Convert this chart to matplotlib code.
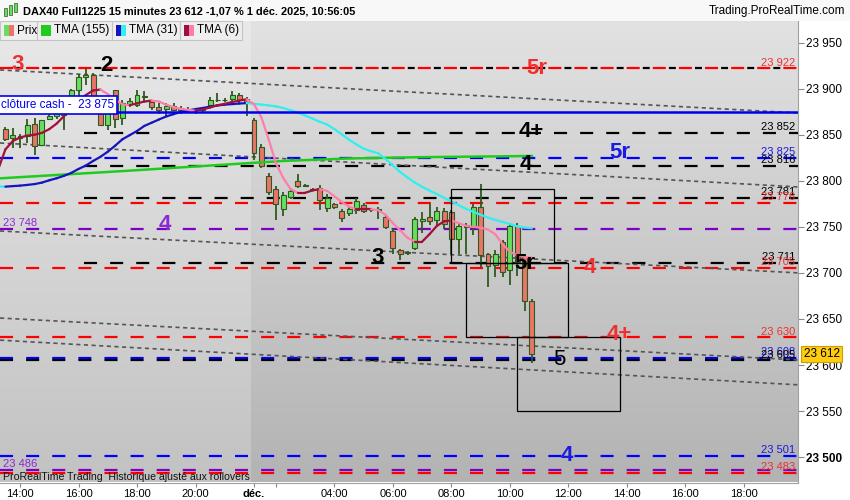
import numpy as np
import matplotlib
matplotlib.use("Agg")
import matplotlib.pyplot as plt
from matplotlib.collections import LineCollection
from matplotlib.colors import LinearSegmentedColormap
from matplotlib.patches import Rectangle

plt.rcParams['font.family'] = ['Liberation Sans', 'DejaVu Sans']
plt.rcParams['lines.scale_dashes'] = False

W, H = 850, 500

# ---------------------------------------------------------------------------
# 15 min bars, Fri 28 Nov 13:30 -> Mon 1 Dec 10:45 (night gap removed)
opens = [23856, 23846, 23849, 23849, 23862, 23839, 23867, 23870, 23871, 23892,
         23899, 23913, 23915, 23884, 23860, 23898, 23868, 23883, 23882, 23890.5,
         23886, 23880, 23878, 23881, 23877, 23878, 23876.5, 23877, 23882, 23888,
         23888, 23889, 23893, 23889,
         23866, 23837, 23805, 23791, 23769, 23782, 23800, 23795, 23790, 23792.5,
         23770, 23774.5, 23767, 23765, 23768, 23774, 23768, 23769, 23761, 23745.5,
         23725, 23722, 23727, 23756.5, 23761, 23757, 23767, 23766, 23737, 23750,
         23750, 23771, 23720, 23709, 23734, 23703, 23751, 23717.5, 23670]
highs = [23858, 23857, 23851, 23867, 23868, 23866, 23875, 23879, 23889, 23900,
         23916, 23921, 23917, 23886, 23888, 23899, 23888, 23889.5, 23899, 23897,
         23888, 23884, 23884, 23884, 23881, 23880, 23878, 23879, 23891, 23895,
         23890, 23897, 23895, 23891,
         23868, 23840, 23808, 23794, 23788, 23790, 23807, 23796, 23792, 23795,
         23786, 23776, 23769, 23772, 23781, 23776, 23770, 23771, 23763, 23749,
         23726, 23724, 23761, 23766, 23775, 23771, 23770, 23768, 23754, 23754,
         23775, 23796, 23722, 23725, 23736, 23754, 23754, 23719.5, 23671.5]
lows = [23843, 23836, 23836, 23841, 23828, 23838, 23866, 23867, 23855, 23889.5,
        23888, 23904, 23886, 23859, 23855, 23857, 23861, 23880.4, 23880, 23886,
        23877, 23873, 23870, 23876, 23873, 23874, 23872, 23875, 23880, 23886,
        23886, 23887, 23884, 23870,
        23822, 23814, 23785, 23757, 23762, 23780, 23792, 23793, 23789, 23768,
        23766, 23769, 23755, 23762, 23764, 23765, 23766, 23759, 23748, 23721,
        23714, 23719, 23725, 23743, 23752, 23752, 23748, 23721, 23721, 23721,
        23741, 23706, 23685, 23696, 23696, 23687, 23697, 23659, 23602]
closes = [23845, 23850, 23846, 23861, 23838, 23866, 23870, 23875, 23882, 23898,
          23913, 23915, 23888, 23861, 23880, 23867, 23884, 23886.5, 23893, 23892,
          23880, 23877, 23881, 23877, 23879.4, 23878, 23876.5, 23878, 23888, 23888,
          23888, 23893, 23888, 23885,
          23830, 23816, 23788, 23775, 23785, 23789, 23794, 23794, 23791, 23779,
          23781, 23771, 23760, 23769, 23778, 23767.5, 23768, 23768, 23750, 23727,
          23720.5, 23722.5, 23758, 23759, 23756, 23767.5, 23753, 23737, 23751, 23752,
          23771, 23719, 23707.5, 23721, 23701.5, 23751, 23712, 23670, 23612]

# moving averages, one value per bar starting one bar before the first candle
tma6 = [23812, 23834, 23843, 23847, 23849, 23850, 23852, 23856, 23862, 23870,
        23879, 23887, 23893, 23898, 23899, 23894, 23888, 23883, 23882, 23884,
        23886, 23887, 23886, 23882.5, 23880, 23878, 23877, 23876, 23877.5, 23879.5,
        23882, 23883.5, 23885.5, 23887, 23888.5, 23883, 23869, 23845, 23819, 23803,
        23791, 23787, 23787, 23789.5, 23791, 23789, 23783, 23777, 23772, 23769,
        23769, 23769, 23768, 23763, 23754, 23746, 23738, 23734, 23734, 23742,
        23751, 23756, 23757, 23754, 23751, 23750, 23749, 23747, 23742, 23731,
        23723, 23719, 23717.5, 23716.5]
tma31 = [23794, 23793.6, 23794.2, 23794.7, 23795.5, 23796.4, 23798, 23800.5, 23802.7, 23805.3,
         23808.5, 23812.8, 23816.5, 23821.5, 23826, 23831.5, 23838, 23845, 23849.5, 23854,
         23859.5, 23863, 23866.5, 23869.8, 23872.3, 23874.8, 23876.3, 23877.8, 23879, 23880.5,
         23881.7, 23882.6, 23883.2, 23883.8, 23884.3, 23883.5, 23882.7, 23881.8, 23880.7, 23879,
         23876.5, 23874, 23870.8, 23867.5, 23864, 23861, 23856, 23850.5, 23844.5, 23839.5,
         23834.8, 23832, 23829.8, 23823.5, 23816.5, 23809.5, 23803.5, 23798, 23793.4, 23789.4,
         23785.5, 23781.5, 23777.5, 23773.5, 23769.5, 23766.3, 23763, 23760, 23757.5, 23755.3,
         23753, 23750.5, 23749.2, 23748.4]
tma155_bar = [-1, 16, 33, 38, 47, 56, 65, 72]
tma155 = [23802.5, 23810.5, 23819, 23821.5, 23824.2, 23825.5, 23826.3, 23826.9]

# horizontal levels
level_prices = [23922, 23852, 23825, 23816, 23781, 23776, 23748, 23711, 23705,
                23630, 23608, 23605, 23501, 23486, 23483]
level_colors = ['red', 'black', 'blue', 'black', 'black', 'red', 'purple', 'black', 'red',
                'red', 'blue', 'black', 'blue', 'purple', 'red']
level_late = [False, True, False, True, True, False, False, True, False,
              False, False, False, False, False, False]

# wave labels: text, colour, day, hour, price
wave_text = ['3', '2', '5r', '4+', '4', '5r', '4', '3', '5r', '4', '4+', '5', '4']
wave_color = ['red', 'black', 'red', 'black', 'black', 'blue', 'purple', 'black', 'black',
              'red', 'red', 'black', 'blue']
wave_day = ['ven', 'ven', 'lun', 'lun', 'lun', 'lun', 'ven', 'lun', 'lun', 'lun', 'lun', 'lun', 'lun']
wave_hour = [13.93, 16.94, 10.91, 10.74, 10.54, 13.75, 18.96, 5.49, 10.5, 12.73, 13.75, 11.7, 11.93]
wave_price = [23926, 23925, 23922, 23854, 23818, 23831, 23752, 23717, 23710, 23706, 23633, 23606, 23502]

# trend lines (price at left edge, price at right edge)
trend_left = [23920.3, 23841, 23745.5, 23651, 23627]
trend_right = [23873.6, 23793.3, 23700, 23605.5, 23578.5]

# boxes (monday hours / prices)
box_t0 = [8.0, 8.5, 10.25]
box_t1 = [11.5, 12.0, 13.75]
box_hi = [23791, 23711, 23630]
box_lo = [23711, 23630, 23550]

xtick_day = ['ven', 'ven', 'ven', 'ven', 'ven', 'lun', 'lun', 'lun', 'lun', 'lun', 'lun', 'lun', 'lun', 'lun']
xtick_hour = [14, 16, 18, 20, 22, 2, 4, 6, 8, 10, 12, 14, 16, 18]
xtick_lab = ['14:00', '16:00', '18:00', '20:00', 'déc.', '', '04:00', '06:00', '08:00',
             '10:00', '12:00', '14:00', '16:00', '18:00']

last_price = 23612
cash_close = 23875


def pos(day, hour):
    # friday closes 22:00, monday opens 01:15: both share one slot
    return hour if day == 'ven' else 22 + hour - 1.25


COL = {'red': '#ff0000', 'black': '#000000', 'blue': '#0000ff', 'purple': '#7a00c8'}
TXT = {'red': '#f03030', 'black': '#000000', 'blue': '#1a1ae0', 'purple': '#8a2ad0'}

# ---------------------------------------------------------------------------
fig = plt.figure(figsize=(W / 100, H / 100), dpi=100, facecolor='white')
ax = fig.add_axes([0, (H - 482.5) / H, 798 / W, 461.5 / H])
x0, x1 = 13.316, 40.598
y0, y1 = 23472.5, 23973.4

grad = np.linspace(0, 1, 256).reshape(-1, 1)
split = 21.9
ax.imshow(grad, extent=[x0, split, y0, y1], aspect='auto', origin='upper', zorder=0,
          cmap=LinearSegmentedColormap.from_list('l', ['#e9e9e9', '#c2c2c2']))
ax.imshow(grad, extent=[split, x1, y0, y1], aspect='auto', origin='upper', zorder=0,
          cmap=LinearSegmentedColormap.from_list('r', ['#e2e2e2', '#b3b3b3']))

# levels
for p, c, late in zip(level_prices, level_colors, level_late):
    start = 16.2 if late else x0
    if p == 23922:
        ax.plot([start, x1], [p, p], color=COL['red'], lw=1.6, ls=(0, (9.4, 9.4)), zorder=2)
        ax.plot([start, x1], [p, p], color='black', lw=1.6, ls=(7.2, (5, 13.8)), zorder=2)
    else:
        ax.plot([start, x1], [p, p], color=COL[c], lw=1.6, ls=(0, (9.4, 9.4)), zorder=2)
    lab = f"{p:,}".replace(',', ' ')
    if c == 'purple':
        ax.annotate(lab, xy=(0, p), xycoords=ax.get_yaxis_transform(), xytext=(2, 0.6),
                    textcoords='offset points', ha='left', va='bottom', fontsize=8,
                    color=TXT[c], zorder=7)
    else:
        ax.annotate(lab, xy=(1, p), xycoords=ax.get_yaxis_transform(), xytext=(-2, 0.6),
                    textcoords='offset points', ha='right', va='bottom', fontsize=8,
                    color=TXT[c], zorder=7)

# trend lines
for a, b in zip(trend_left, trend_right):
    ax.plot([x0, x1], [a, b], color='#555555', lw=1.2, ls=(0, (3, 2.5)), zorder=2)

# cash close
ax.axhline(cash_close, color='#0000ee', lw=1.8, zorder=6)
ax.text(13.36, cash_close + 7.5, 'clôture cash -  23 875', color='#0000ee', fontsize=8.5,
        ha='left', va='center', zorder=8,
        bbox=dict(boxstyle='square,pad=0.25', fc='white', ec='#0000ee', lw=1.2))

# boxes
for t0, t1, hi, lo in zip(box_t0, box_t1, box_hi, box_lo):
    ax.add_patch(Rectangle((pos('lun', t0), lo), pos('lun', t1) - pos('lun', t0), hi - lo,
                           fill=False, ec='black', lw=0.9, zorder=6))

# candles
xs = 13.5 + 0.25 * np.arange(len(opens))
o = np.array(opens); c_ = np.array(closes)
up = c_ >= o
ax.vlines(xs, lows, highs, color='#2d5a1e', lw=1.3, zorder=3)
ax.bar(xs, np.abs(c_ - o), bottom=np.minimum(o, c_), width=0.17,
       color=np.where(up, '#66df5e', '#ec736a'), edgecolor='#2d5a1e', lw=0.8, zorder=4)


# moving averages
def two_tone(x, y, col_up, col_down, lw):
    pts = np.column_stack([x, y])
    segs = np.stack([pts[:-1], pts[1:]], axis=1)
    cols = [col_up if b >= a else col_down for a, b in zip(y[:-1], y[1:])]
    ax.add_collection(LineCollection(segs, colors=cols, linewidths=lw, zorder=5,
                                     capstyle='round'))


xm = 13.25 + 0.25 * np.arange(len(tma6))
ax.plot(13.5 + 0.25 * np.array(tma155_bar), tma155, color='#1ecc1e', lw=1.8, zorder=5)
two_tone(xm, tma31, '#1414c0', '#2ef0f0', 1.6)
two_tone(xm, tma6, '#a0103a', '#ff7ea8', 1.6)

# wave labels
for s, c, d, h, p in zip(wave_text, wave_color, wave_day, wave_hour, wave_price):
    ax.text(pos(d, h), p, s, color=TXT[c], fontsize=16,
            fontweight='normal' if s == '5' else 'bold', ha='center', va='center', zorder=9)

ax.text(0.004, 0.012, 'ProRealTime Trading  Historique ajusté aux rollovers', transform=ax.transAxes,
        fontsize=7.6, ha='left', va='center', color='#111111', zorder=9)

# axes
ax.set_xlim(x0, x1)
ax.set_ylim(y0, y1)
ax.yaxis.tick_right()
yt = list(range(23500, 24000, 50))
ax.set_yticks(yt, [f"{v:,}".replace(',', ' ') for v in yt])
for t, v in zip(ax.get_yticklabels(), yt):
    if v == 23500:
        t.set_fontweight('bold')
ax.tick_params(axis='y', length=4, color='#888888', labelsize=8.5, pad=1.5)
ax.set_xticks([pos(d, h) for d, h in zip(xtick_day, xtick_hour)], xtick_lab)
for t in ax.get_xticklabels():
    if t.get_text() == 'déc.':
        t.set_fontweight('bold')
ax.tick_params(axis='x', length=3, color='#888888', labelsize=8, pad=2)
for s in ['top', 'left']:
    ax.spines[s].set_visible(False)
for s in ['right', 'bottom']:
    ax.spines[s].set_color('#a0a0a0')

ax.annotate(f"{last_price:,}".replace(',', ' '), xy=(1, last_price), xycoords=ax.get_yaxis_transform(),
            xytext=(4, 0), textcoords='offset points', ha='left', va='center', fontsize=8.5,
            annotation_clip=False, zorder=10,
            bbox=dict(boxstyle='square,pad=0.2', fc='#ffcc10', ec='#c8a000', lw=0.8))


# header
def fx(px):
    return px / W


def fy(py):
    return 1 - py / H


fig.add_artist(Rectangle((0, fy(21)), 1, 21 / H, transform=fig.transFigure,
                         fc='#f8f8f8', ec='none', zorder=5))
fig.add_artist(Rectangle((0, fy(21)), 1, 0.0005, transform=fig.transFigure,
                         fc='#bbbbbb', ec='none', zorder=5))
for xa, ya, h_, col in [(4, 8, 8, '#66df5e'), (9, 5, 10, '#66df5e'), (14, 3, 9, '#66df5e')]:
    fig.add_artist(Rectangle((fx(xa), fy(ya + h_)), 3 / W, h_ / H, transform=fig.transFigure,
                             fc=col, ec='#2d5a1e', lw=0.5, zorder=6))
fig.text(fx(23), fy(11), 'DAX40 Full1225 15 minutes 23 612 -1,07 % 1 déc. 2025, 10:56:05',
         fontsize=7.9, fontweight='bold', va='center', ha='left', zorder=7)
fig.text(fx(845), fy(11), 'Trading.ProRealTime.com', fontsize=8.5, va='center', ha='right', zorder=7)

tabs = [(0, 37, 'Prix', ['#66df5e', '#ec736a']),
        (37, 112, 'TMA (155)', ['#1ecc1e', '#1ecc1e']),
        (112, 180, 'TMA (31)', ['#1414c0', '#2ef0f0']),
        (180, 242, 'TMA (6)', ['#a0103a', '#ff7ea8'])]
for xa, xb, name, cols in tabs:
    fig.add_artist(Rectangle((fx(xa), fy(40)), (xb - xa) / W, 19 / H, transform=fig.transFigure,
                             fc='#eeeeee', ec='#c4c4c4', lw=0.8, zorder=6))
    fig.add_artist(Rectangle((fx(xa + 4), fy(36)), 5 / W, 11 / H, transform=fig.transFigure,
                             fc=cols[0], ec='none', zorder=7))
    fig.add_artist(Rectangle((fx(xa + 9), fy(36)), 5 / W, 11 / H, transform=fig.transFigure,
                             fc=cols[1], ec='none', zorder=7))
    fig.text(fx(xa + 17), fy(30.5), name, fontsize=8.5, va='center', ha='left', zorder=8)

fig.savefig('out.png', dpi=100, facecolor='white')
